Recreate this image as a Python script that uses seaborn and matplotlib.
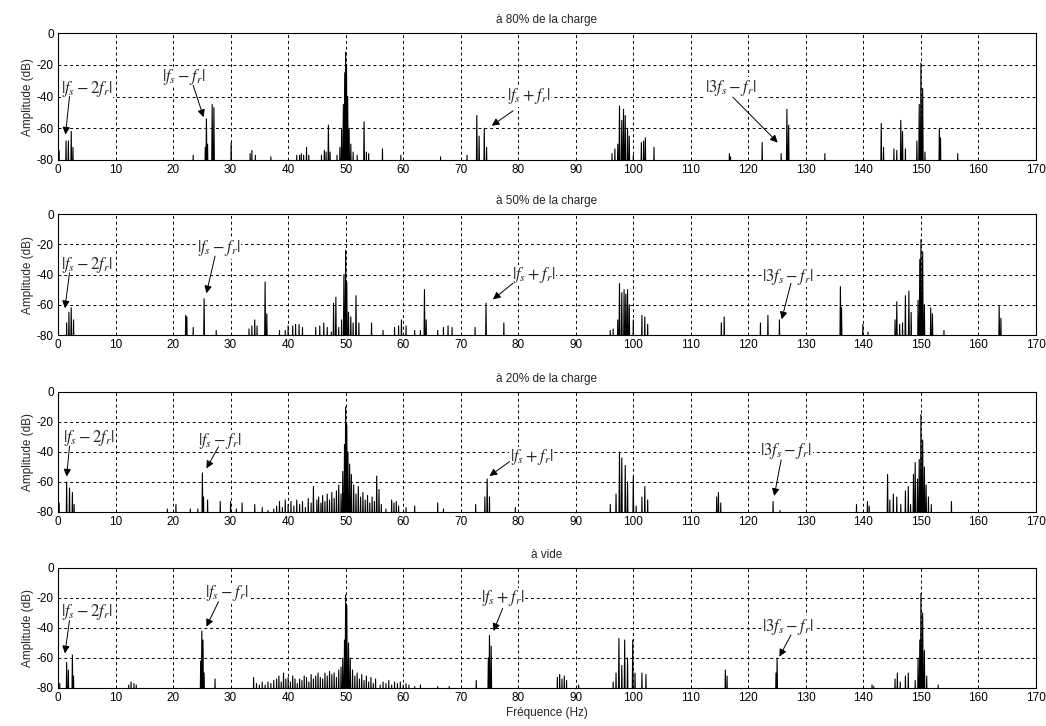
import numpy as np
import pandas as pd
import matplotlib
matplotlib.use("Agg")
import matplotlib.pyplot as plt
import seaborn as sns

# ---------------- data (peak frequency in Hz, amplitude in dB) ----------------
titles = ["à 80% de la charge", "à 50% de la charge", "à 20% de la charge", "à vide"]
labels = [r"$|f_s-2f_r|$", r"$|f_s-f_r|$", r"$|f_s+f_r|$", r"$|3f_s-f_r|$"]

freq_80 = [0.2, 1.4, 1.8, 2.3, 2.6, 23.5, 25.6, 25.8, 26.0, 26.8, 27.1, 30.1, 33.4, 33.7, 34.3, 37.0,
           41.5, 42.0, 42.3, 42.7, 43.2, 43.6, 45.8, 46.3, 46.6, 47.0, 47.3,
           48.5, 49.0, 49.3, 49.6, 49.85, 50.0, 50.15, 50.35, 50.6, 50.9, 51.3,
           52.0, 53.2, 53.6, 54.0, 56.4, 59.6, 66.5, 71.1, 72.8, 73.2, 74.1, 74.5,
           96.3, 96.8, 97.3, 97.6, 98.0, 98.3, 98.6, 99.0, 99.3, 100.0, 101.4, 101.8, 102.1, 103.6,
           116.7, 116.9, 122.4, 125.7, 126.7, 127.0, 133.3,
           143.1, 143.5, 145.3, 145.8, 146.5, 146.8, 147.3, 149.3, 149.7, 150.0, 150.3, 150.7,
           153.2, 153.4, 156.4]
amp_80 = [-74, -68, -68, -62, -72, -77, -72, -54, -70, -45, -47, -69, -76, -74, -77, -78,
          -77, -77, -76, -77, -72, -77, -77, -74, -75, -58, -75,
          -77, -72, -60, -45, -25, -12, -20, -40, -60, -70, -75,
          -77, -56, -75, -76, -73, -77, -78, -77, -52, -65, -60, -72,
          -76, -73, -70, -46, -55, -48, -52, -60, -65, -77, -69, -68, -66, -72,
          -76, -78, -69, -76, -48, -58, -76,
          -57, -72, -73, -74, -55, -62, -73, -68, -45, -19, -35, -75,
          -60, -66, -76]

freq_50 = [1.5, 1.9, 2.3, 2.7, 22.2, 22.4, 23.5, 25.4, 27.5, 33.2, 33.7, 34.2, 34.6, 36.0, 36.3,
           38.5, 39.5, 40.0, 40.8, 41.3, 41.9, 42.5, 44.8, 45.5, 46.2, 46.8, 47.5,
           47.9, 48.3, 48.8, 49.3, 49.7, 50.0, 50.2, 50.5, 50.9, 51.3, 51.8, 52.3,
           54.5, 56.5, 58.5, 59.2, 59.7, 60.5, 62.0, 63.0, 63.7, 64.0, 66.0, 67.0, 67.8, 68.5,
           72.5, 74.4, 77.5,
           96.0, 96.5, 97.3, 97.6, 98.0, 98.4, 98.7, 99.0, 99.3, 100.0, 101.5, 102.0, 102.5,
           115.3, 115.8, 122.1, 123.4, 125.4, 136.0, 136.2, 139.9, 140.8,
           145.5, 145.8, 146.3, 146.8, 147.3, 147.9, 148.3, 149.5, 149.8, 150.0, 150.3, 150.6,
           151.7, 152.0, 154.0, 163.6, 163.9]
amp_50 = [-72, -65, -62, -70, -67, -68, -75, -56, -77, -76, -74, -70, -74, -45, -66,
          -77, -77, -74, -74, -73, -73, -75, -75, -74, -72, -75, -78,
          -59, -55, -75, -70, -40, -24, -45, -65, -68, -72, -54, -72,
          -72, -77, -75, -74, -70, -74, -77, -77, -50, -70, -77, -75, -74, -75,
          -75, -59, -72,
          -77, -76, -70, -46, -52, -50, -53, -50, -60, -70, -67, -68, -73,
          -72, -68, -72, -67, -70, -48, -62, -73, -78,
          -70, -58, -73, -72, -54, -51, -65, -57, -30, -17, -25, -60,
          -62, -66, -77, -61, -69]

freq_20 = [0.2, 1.5, 2.0, 2.5, 2.8, 19.0, 20.5, 23.0, 24.3, 25.1, 25.3, 26.0, 28.2, 30.0, 31.0, 32.0,
           34.2, 35.5, 36.5, 37.5, 38.0, 38.5, 39.0, 39.5, 40.0, 40.5, 41.0, 41.5, 42.0, 42.5, 43.0,
           43.5, 44.0, 44.4, 45.0, 45.3, 45.7, 46.0, 46.4, 46.8, 47.2, 47.6, 48.0, 48.4, 48.8, 49.2,
           49.5, 49.8, 50.0, 50.2, 50.4, 50.7, 51.0, 51.4, 51.8, 52.2, 52.6, 53.0, 53.4, 53.8, 54.2,
           54.6, 55.0, 55.4, 55.8, 56.2, 57.0, 58.0, 58.4, 58.8, 59.2, 60.5, 62.0, 66.0, 67.0,
           72.6, 74.2, 74.6, 75.0, 79.5,
           96.0, 97.0, 97.6, 98.0, 98.6, 99.0, 100.0, 100.5, 101.5, 102.0, 102.5,
           114.5, 114.8, 115.2, 124.3, 125.5, 138.8, 140.7, 141.0,
           144.2, 144.6, 145.2, 145.8, 146.5, 147.3, 147.8, 148.2, 148.7, 149.0, 149.4, 149.7,
           150.0, 150.3, 150.6, 150.9, 151.3, 151.8, 155.3]
amp_20 = [-74, -60, -64, -67, -75, -78, -75, -78, -78, -54, -70, -72, -73, -73, -78, -74,
          -75, -77, -79, -78, -76, -73, -77, -72, -75, -73, -76, -72, -75, -73, -77,
          -71, -74, -63, -72, -70, -74, -69, -73, -68, -72, -67, -71, -66, -62, -68,
          -53, -35, -10, -22, -40, -48, -55, -62, -68, -63, -70, -67, -72, -69, -74,
          -70, -73, -56, -65, -75, -78, -72, -74, -73, -76, -77, -76, -74, -78,
          -75, -70, -58, -70, -77,
          -75, -68, -40, -44, -49, -60, -56, -76, -70, -63, -72,
          -70, -67, -74, -73, -79, -75, -73, -76,
          -55, -72, -68, -70, -75, -66, -63, -75, -55, -47, -58, -45,
          -15, -32, -50, -62, -70, -75, -73]

freq_0 = [0.3, 1.5, 1.8, 2.5, 2.7, 12.3, 12.7, 13.2, 13.6, 24.8, 25.0, 25.2, 25.4, 27.3,
          34.0, 34.5, 35.0, 35.5, 36.0, 36.5, 37.0, 37.5, 38.0, 38.4, 38.8, 39.2, 39.6, 40.0,
          40.4, 40.8, 41.2, 41.6, 42.0, 42.4, 42.8, 43.2, 43.6, 44.0, 44.4, 44.8, 45.2, 45.6,
          46.0, 46.4, 46.8, 47.2, 47.6, 48.0, 48.4, 48.8, 49.2, 49.5, 49.8, 50.0, 50.2, 50.5,
          50.8, 51.2, 51.6, 52.0, 52.4, 52.8, 53.2, 53.6, 54.0, 54.4, 54.8, 55.2, 56.0, 56.5,
          57.0, 57.5, 58.0, 58.5, 59.0, 59.5, 60.0, 60.5, 61.0, 62.0, 63.0, 66.0, 68.0,
          72.7, 74.8, 75.0, 75.3, 86.8, 87.2, 87.6, 88.0, 88.4, 90.5,
          96.5, 97.0, 97.5, 98.0, 98.5, 99.0, 99.9, 100.3, 101.5, 102.2,
          116.0, 116.3, 124.8, 125.0, 141.5, 141.8,
          145.5, 145.9, 146.4, 147.3, 147.8, 149.0, 149.5, 149.8, 150.0, 150.3, 150.6, 151.0, 153.0]
amp_0 = [-77, -63, -68, -58, -72, -78, -76, -77, -78, -62, -42, -48, -70, -74,
         -73, -77, -78, -76, -78, -76, -77, -75, -74, -72, -76, -70, -74, -73,
         -76, -72, -74, -77, -74, -75, -72, -73, -76, -71, -74, -72, -70, -73,
         -74, -70, -72, -69, -71, -70, -73, -68, -66, -60, -48, -18, -25, -50,
         -60, -68, -72, -70, -74, -71, -75, -72, -76, -73, -77, -74, -78, -76,
         -77, -75, -78, -76, -77, -76, -78, -77, -78, -79, -78, -79, -79,
         -75, -60, -45, -52, -73, -71, -74, -72, -75, -78,
         -76, -70, -47, -65, -48, -60, -48, -70, -70, -71,
         -68, -72, -70, -60, -78, -79,
         -74, -70, -76, -72, -70, -75, -60, -48, -17, -30, -55, -72, -78]

spectra = [(freq_80, amp_80), (freq_50, amp_50), (freq_20, amp_20), (freq_0, amp_0)]

# ---------------- layout (annotation placement, axes boxes) ----------------
# per panel: for each label -> (text_x, text_y, arrow_start_x, arrow_start_y, tip_x, tip_y)
annot = [
    [(0.5, -35, 2.0, -40, 1.3, -64), (18.1, -27.7, 23.5, -33, 25.3, -53),
     (78.1, -40, 79.1, -49, 75.4, -58.4), (112.5, -34.5, 117.3, -40.4, 125.1, -69)],
    [(0.6, -33.7, 2.0, -39, 1.2, -62.3), (24.1, -22.7, 27.3, -27.8, 25.8, -52.4),
     (79.0, -40.3, 79.1, -45.8, 75.6, -56.4), (122.4, -41.4, 127.4, -45.8, 125.8, -69.6)],
    [(0.8, -30.9, 2.0, -36, 1.5, -56.4), (24.4, -32.4, 27.9, -36.5, 25.8, -50.9),
     (78.5, -43.6, 78.5, -46.4, 75.0, -56), (122.1, -39.1, 125.7, -45.3, 124.5, -69.3)],
    [(0.6, -29.1, 2.0, -35, 1.2, -56.9), (25.6, -16.9, 27.9, -22.4, 25.8, -39.1),
     (73.5, -20.2, 77.3, -26.9, 75.7, -42), (122.4, -39.1, 127.4, -44.7, 125.4, -59.1)],
]
W, H = 1046, 726
boxes_px = [(33, 160), (214, 335), (392, 512), (568, 688)]
left_px, right_px = 58, 1036

sns.set_theme(style="white")
plt.rcParams["font.family"] = ["Liberation Sans", "DejaVu Sans"]
plt.rcParams["mathtext.fontset"] = "stix"

fig = plt.figure(figsize=(W / 100, H / 100), dpi=100)


def spectrum_frame(freqs, amps, hw=0.12, floor=-100.0):
    xs, ys = [], []
    for f, a in sorted(zip(freqs, amps)):
        xs += [f - hw, f, f + hw]
        ys += [floor, a, floor]
    return pd.DataFrame({"f": xs, "a": ys})


for i, ((fr, am), (top, bot)) in enumerate(zip(spectra, boxes_px)):
    ax = fig.add_axes([left_px / W, 1 - bot / H, (right_px - left_px) / W, (bot - top) / H])
    df = spectrum_frame(fr, am)
    sns.lineplot(data=df, x="f", y="a", sort=False, estimator=None, color="black",
                 lw=0.8, ax=ax)
    ax.set_xlim(0, 170)
    ax.set_ylim(-80, 0)
    ax.set_xticks(np.arange(0, 171, 10))
    ax.set_yticks([-80, -60, -40, -20, 0])
    ax.set_yticklabels(["-80", "-60", "-40", "-20", "0"])
    ax.grid(True, color="black", linestyle=(0, (3, 3)), linewidth=0.7)
    ax.tick_params(direction="in", length=3, labelsize=8.5, colors="black", pad=3)
    for s in ax.spines.values():
        s.set_color("black")
        s.set_linewidth(0.8)
    ax.set_title(titles[i], fontsize=8.5, pad=7)
    ax.set_ylabel("Amplitude (dB)", fontsize=8.5, labelpad=2)
    ax.set_xlabel("Fréquence (Hz)" if i == 3 else "", fontsize=8.5, labelpad=2)
    for lab, (tx, ty, sx, sy, px, py) in zip(labels, annot[i]):
        ax.text(tx, ty, lab, fontsize=12, ha="left", va="center",
                bbox=dict(facecolor="white", edgecolor="none", pad=0.3))
        ax.annotate("", xy=(px, py), xytext=(sx, sy),
                    arrowprops=dict(arrowstyle="-|>", color="black", lw=0.7,
                                    mutation_scale=11, shrinkA=0, shrinkB=0))

fig.savefig("out.png", dpi=100)
